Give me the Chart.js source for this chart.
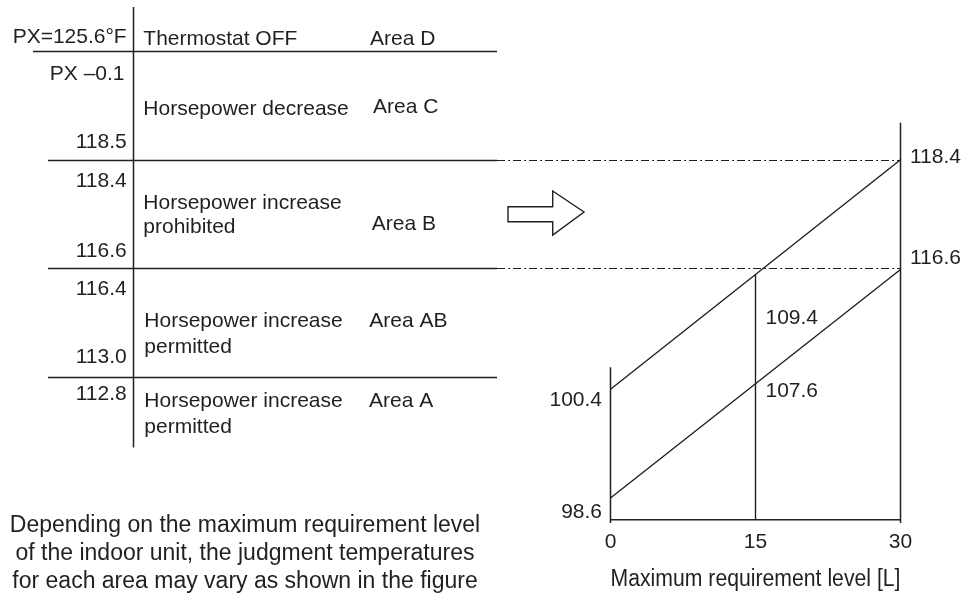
<!DOCTYPE html>
<html>
<head>
<meta charset="utf-8">
<script src="https://cdn.jsdelivr.net/npm/chart.js@4.4.0/dist/chart.umd.min.js"></script>
<style>
  html, body { margin: 0; padding: 0; background: #fff; }
  canvas { display: block; }
</style>
</head>
<body>
<canvas id="chart" width="963" height="594"></canvas>
<script>
// Maximum requirement level [L]
const levels = [0, 15, 30];
const xTicks = [0, 15, 30];
// Judgment temperatures (°F) on the two boundary lines
const upperLine = [100.4, 109.4, 118.4];
const lowerLine = [98.6, 107.6, 116.6];

// Area table, top row first
const areaNames = ['Area D', 'Area C', 'Area B', 'Area AB', 'Area A'];
const areaText = [
    ['Thermostat OFF'],
    ['Horsepower decrease'],
    ['Horsepower increase', 'prohibited'],
    ['Horsepower increase', 'permitted'],
    ['Horsepower increase', 'permitted']
];
const rowTopLabels = ['PX=125.6°F', 'PX –0.1', '118.4', '116.4', '112.8'];
const rowBottomLabels = ['', '118.5', '116.6', '113.0', ''];

const noteLines = [
    'Depending on the maximum requirement level',
    'of the indoor unit, the judgment temperatures',
    'for each area may vary as shown in the figure'
];

const ink = '#231f20';
const FONT = '"Liberation Sans", Arial, Helvetica, sans-serif';
Chart.defaults.font.family = FONT;
Chart.defaults.color = ink;

// the diagram is schematic, so each line gets its own temperature axis
const upperMin = 90.15, upperMax = 121.3;
const lowerMin = 96.87, lowerMax = 128.16;

// where the text of each table row sits (baselines)
const rowLayout = [
    { top: 43.3, text: [45], area: 45, areaX: 370 },
    { top: 80, bottom: 148.3, text: [115], area: 113, areaX: 373 },
    { top: 186.7, bottom: 256.7, text: [209.3, 233], area: 230, areaX: 371.7 },
    { top: 295, bottom: 362.7, text: [326.7, 353.3], area: 326.7, areaX: 369.3 },
    { top: 400, text: [406.7, 433.3], area: 406.7, areaX: 369 }
];

function seg(ctx, x1, y1, x2, y2) {
    ctx.beginPath();
    ctx.moveTo(x1, y1);
    ctx.lineTo(x2, y2);
    ctx.stroke();
}

const diagram = {
    id: 'diagram',
    beforeDatasetsDraw(chart) {
        const ctx = chart.ctx;
        const x = chart.scales.x, yU = chart.scales.yUpper, yL = chart.scales.yLower;
        const area = chart.chartArea;
        const yB = Math.round(yU.getPixelForValue(upperLine[2])) + 0.5;
        const yAB = Math.round(yL.getPixelForValue(lowerLine[2])) - 0.5;

        ctx.save();
        ctx.strokeStyle = ink;
        ctx.lineWidth = 1.5;

        // table grid
        seg(ctx, 133.5, 7, 133.5, 447.5);
        seg(ctx, 33, 51.5, 497, 51.5);
        seg(ctx, 48, yB, 497, yB);
        seg(ctx, 48, yAB, 497, yAB);
        seg(ctx, 48, 377.5, 497, 377.5);

        // dash-dot leaders into the chart
        ctx.lineWidth = 1;
        ctx.setLineDash([8, 3, 2, 3]);
        seg(ctx, 497, yB, x.getPixelForValue(30), yB);
        seg(ctx, 497, yAB, x.getPixelForValue(30), yAB);
        ctx.setLineDash([]);

        // arrow
        ctx.lineWidth = 1.4;
        ctx.fillStyle = '#fff';
        ctx.beginPath();
        ctx.moveTo(508, 206.7);
        ctx.lineTo(552.7, 206.7);
        ctx.lineTo(552.7, 191);
        ctx.lineTo(584, 212);
        ctx.lineTo(552.7, 235);
        ctx.lineTo(552.7, 221.7);
        ctx.lineTo(508, 221.7);
        ctx.closePath();
        ctx.fill();
        ctx.stroke();

        // chart side axes
        ctx.lineWidth = 1.5;
        const x0 = x.getPixelForValue(levels[0]);
        const x30 = x.getPixelForValue(levels[2]);
        seg(ctx, x0, yU.getPixelForValue(upperLine[0]) - 22, x0, area.bottom + 3);
        seg(ctx, x30, area.top, x30, area.bottom + 3);

        // table text
        ctx.fillStyle = ink;
        ctx.font = '21px ' + FONT;
        ctx.textBaseline = 'alphabetic';
        rowLayout.forEach((r, i) => {
            ctx.textAlign = 'right';
            ctx.fillText(rowTopLabels[i], i === 1 ? 124.5 : 126.7, r.top);
            if (rowBottomLabels[i]) ctx.fillText(rowBottomLabels[i], 126.7, r.bottom);
            ctx.textAlign = 'left';
            areaText[i].forEach((t, j) => ctx.fillText(t, i < 3 ? 143.3 : 144.3, r.text[j]));
            ctx.fillText(areaNames[i], r.areaX, r.area);
        });

        // note below the table
        ctx.font = '23px ' + FONT;
        ctx.textAlign = 'center';
        [531.7, 560, 587.7].forEach((b, i) => ctx.fillText(noteLines[i], 245, b));

        // values at the ends and middle of the lines
        ctx.font = '21px ' + FONT;
        ctx.textAlign = 'left';
        ctx.fillText(upperLine[2].toFixed(1), x30 + 9.5, yU.getPixelForValue(upperLine[2]) + 3.3);
        ctx.fillText(lowerLine[2].toFixed(1), x30 + 9.5, yL.getPixelForValue(lowerLine[2]) - 5.5);
        const x15 = x.getPixelForValue(levels[1]);
        ctx.fillText(upperLine[1].toFixed(1), x15 + 10, yU.getPixelForValue(upperLine[1]) + 49.7);
        ctx.fillText(lowerLine[1].toFixed(1), x15 + 10, yL.getPixelForValue(lowerLine[1]) + 13.2);
        ctx.textAlign = 'right';
        ctx.fillText(upperLine[0].toFixed(1), x0 - 8.5, yU.getPixelForValue(upperLine[0]) + 16.4);
        ctx.fillText(lowerLine[0].toFixed(1), x0 - 8.5, yL.getPixelForValue(lowerLine[0]) + 20);

        ctx.restore();
    }
};

const lineStyle = {
    borderColor: ink,
    borderWidth: 1.4,
    pointRadius: 0,
    tension: 0,
    fill: false,
    clip: false
};

new Chart(document.getElementById('chart').getContext('2d'), {
    type: 'line',
    data: {
        datasets: [
            Object.assign({
                label: 'Upper boundary',
                data: levels.map((l, i) => ({ x: l, y: upperLine[i] })),
                yAxisID: 'yUpper'
            }, lineStyle),
            Object.assign({
                label: 'Lower boundary',
                data: levels.map((l, i) => ({ x: l, y: lowerLine[i] })),
                yAxisID: 'yLower'
            }, lineStyle),
            Object.assign({
                label: 'Level 15',
                data: [{ x: levels[1], y: upperMin }, { x: levels[1], y: upperLine[1] }],
                yAxisID: 'yUpper'
            }, lineStyle)
        ]
    },
    options: {
        responsive: false,
        animation: false,
        devicePixelRatio: 1,
        layout: { padding: { left: 610.5, right: 62.5, top: 122.7, bottom: 2.3 } },
        plugins: { legend: { display: false }, tooltip: { enabled: false } },
        events: [],
        scales: {
            x: {
                type: 'linear',
                min: 0,
                max: 30,
                afterBuildTicks: axis => { axis.ticks = xTicks.map(v => ({ value: v })); },
                ticks: { font: { size: 21, lineHeight: 1.2 }, padding: 10, maxRotation: 0, color: ink },
                grid: { display: false, drawTicks: false },
                border: { display: true, color: ink, width: 1.5 },
                title: {
                    display: true,
                    text: 'Maximum requirement level [L]',
                    font: { size: 23.5, lineHeight: 1 },
                    padding: { top: 3, bottom: 0 },
                    color: ink
                }
            },
            yUpper: { type: 'linear', display: false, min: upperMin, max: upperMax },
            yLower: { type: 'linear', display: false, min: lowerMin, max: lowerMax }
        }
    },
    plugins: [diagram]
});
</script>
</body>
</html>
